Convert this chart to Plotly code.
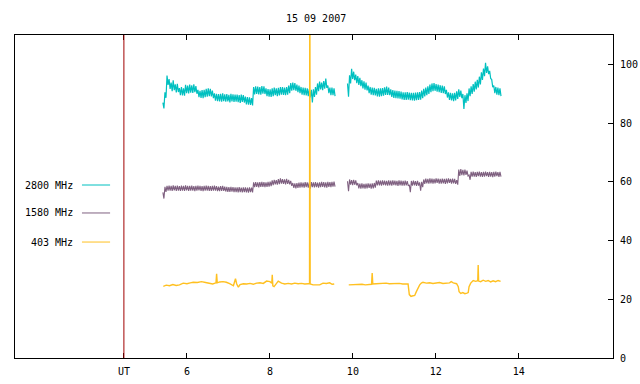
import numpy as np
import plotly.graph_objects as go

# ---------------- data ----------------
title_text = "15 09 2007"
series_names = ["2800 MHz", "1580 MHz", "403 MHz"]
series_colors = ["#00C0C0", "#7F6080", "#FFC020"]
ut_marker = 4.48          # hour where the "UT" marker line sits
x_tick_vals = [4.48, 6, 8, 10, 12, 14]
x_tick_text = ["UT", "6", "8", "10", "12", "14"]
y_tick_vals = [0, 20, 40, 60, 80, 100]

# segment time spans (hours UT); samples are evenly spaced inside each span
seg1_span = (5.42, 9.57)
seg2_span = (9.87, 13.57)

# 2800 MHz flux, successive samples (noisy band: high/low alternate)
f2800_seg1 = [87.0, 85.0, 90.5, 88.6, 96.2, 93.0, 95.0, 91.6, 93.8, 90.9, 94.6, 91.2, 93.2, 90.4, 93.4, 90.6,
              91.9, 89.5, 92.3, 89.4, 91.8, 89.3, 93.0, 90.2, 92.8, 90.1, 93.1, 90.4, 92.9, 90.3, 93.2, 90.5,
              92.6, 90.0, 91.3, 88.8, 91.0, 88.6, 91.2, 88.5, 91.3, 88.8, 91.7, 89.0, 91.8, 89.2, 91.7, 89.1,
              91.1, 88.5, 90.1, 87.6, 90.0, 87.5, 89.9, 87.4, 90.0, 87.3, 90.1, 87.5, 89.8, 87.3, 89.9, 87.4,
              89.6, 87.0, 90.0, 87.4, 89.8, 87.2, 89.7, 87.3, 89.7, 87.1, 89.5, 86.9, 89.7, 87.2, 89.5, 87.0,
              89.0, 86.4, 88.9, 86.3, 88.8, 86.2, 88.5, 86.0, 92.3, 89.8, 92.5, 89.9, 92.4, 89.8, 92.3, 89.7,
              92.6, 90.0, 92.5, 89.9, 91.8, 89.2, 91.6, 89.0, 91.5, 88.9, 91.8, 89.2, 92.1, 89.5, 91.8, 89.2,
              92.0, 89.4, 92.3, 89.7, 92.3, 89.6, 92.1, 89.5, 92.3, 89.7, 92.8, 90.2, 93.6, 91.0, 93.8, 91.2,
              93.6, 91.0, 93.1, 90.5, 92.8, 90.2, 92.3, 89.7, 92.1, 89.5, 92.0, 89.4, 91.8, 89.2, 91.6, 88.7,
              91.3, 87.0, 91.5, 88.9, 92.3, 89.7, 93.5, 90.9, 94.1, 91.5, 93.8, 91.2, 94.3, 91.7, 95.2, 92.0,
              92.8, 90.2, 92.1, 89.5, 92.1, 89.5, 91.8, 89.2]
f2800_seg2 = [93.5, 89.0, 96.3, 93.5, 98.5, 95.0, 97.5, 94.6, 96.5, 93.6, 96.0, 93.0, 95.4, 92.6, 94.6, 91.8,
              94.2, 91.4, 93.8, 91.1, 92.8, 90.2, 92.3, 89.7, 92.1, 89.5, 92.0, 89.4, 91.7, 89.1, 91.8, 89.0,
              91.8, 89.2, 91.9, 89.3, 92.2, 89.6, 92.4, 89.6, 92.1, 89.5, 91.5, 88.9, 91.2, 88.6, 91.1, 88.5,
              91.0, 88.4, 90.9, 88.3, 90.7, 88.1, 90.5, 87.9, 90.5, 87.9, 90.6, 88.0, 90.4, 87.8, 90.3, 87.7,
              90.3, 87.6, 90.4, 87.8, 90.5, 87.9, 90.6, 88.0, 91.1, 88.5, 91.7, 89.1, 92.1, 89.5, 92.5, 89.9,
              93.1, 90.5, 93.5, 90.9, 93.6, 91.0, 93.3, 90.7, 93.1, 90.5, 92.9, 90.3, 92.8, 90.2, 92.5, 89.9,
              91.3, 88.7, 90.5, 87.9, 90.3, 87.7, 90.1, 87.5, 90.3, 87.7, 90.8, 88.2, 91.5, 88.9, 91.1, 88.5,
              89.9, 84.8, 89.5, 86.9, 90.1, 87.5, 91.8, 89.2, 92.5, 89.9, 93.3, 90.7, 94.1, 91.5, 94.7, 92.1,
              95.8, 93.2, 97.3, 94.7, 98.6, 96.0, 100.5, 97.1, 99.3, 96.7, 97.8, 95.2, 94.8, 92.2, 92.8, 90.2,
              92.3, 89.7, 92.1, 89.5, 91.8, 89.2]

# 1580 MHz flux
f1580_seg1 = [56.4, 54.3, 58.3, 56.6, 58.6, 57.0, 58.7, 57.0, 58.6, 56.9, 58.8, 57.1, 58.6, 56.9, 58.7, 57.0,
              58.5, 56.9, 58.7, 57.0, 58.6, 56.9, 58.8, 57.1, 58.6, 56.9, 58.6, 57.0, 58.7, 57.0, 58.5, 56.8,
              58.6, 57.0, 58.7, 57.1, 58.6, 56.9, 58.5, 56.8, 58.6, 57.0, 58.7, 57.0, 58.6, 56.9, 58.5, 56.9,
              58.6, 57.0, 58.7, 57.0, 58.5, 56.8, 58.4, 56.8, 58.5, 56.9, 58.6, 56.9, 58.4, 56.7, 58.3, 56.6,
              58.2, 56.6, 58.3, 56.7, 58.2, 56.5, 58.1, 56.5, 58.1, 56.4, 58.2, 56.5, 58.0, 56.4, 58.1, 56.5,
              58.1, 56.4, 58.0, 56.3, 58.1, 56.5, 58.0, 56.4, 59.8, 58.2, 59.9, 58.3, 59.8, 58.1, 59.9, 58.3,
              60.0, 58.3, 59.9, 58.2, 59.8, 58.3, 60.0, 58.4, 60.1, 58.5, 60.5, 58.9, 60.7, 59.1, 60.6, 59.0,
              60.9, 59.2, 61.2, 59.4, 60.9, 59.3, 60.8, 59.1, 61.0, 59.3, 60.7, 59.1, 60.3, 58.6, 59.6, 57.9,
              59.5, 57.8, 59.6, 57.9, 59.7, 58.0, 59.8, 58.1, 59.7, 58.0, 59.9, 58.2, 59.8, 58.0, 59.7, 57.7,
              59.9, 58.2, 59.8, 58.1, 59.9, 58.2, 59.7, 58.0, 59.8, 58.2, 60.0, 58.3, 59.9, 58.1, 59.8, 58.0,
              60.0, 58.3, 59.9, 58.2, 60.0, 58.4, 60.1, 58.4]
f1580_seg2 = [60.2, 56.8, 60.8, 59.0, 60.6, 58.9, 60.7, 59.0, 60.5, 58.8, 59.6, 57.8, 59.4, 57.7, 59.5, 57.8,
              59.3, 57.7, 59.4, 57.8, 59.5, 57.9, 59.4, 57.7, 59.5, 57.8, 59.6, 58.0, 60.4, 58.8, 60.5, 58.8,
              60.4, 58.7, 60.5, 58.9, 60.4, 58.8, 60.3, 58.7, 60.5, 58.8, 60.4, 58.7, 60.5, 58.9, 60.4, 58.8,
              60.3, 58.6, 60.5, 58.8, 60.4, 58.7, 60.3, 58.7, 60.4, 58.8, 60.2, 58.6, 59.0, 56.5, 60.3, 58.7,
              60.4, 58.8, 60.2, 58.6, 60.3, 58.7, 59.8, 57.0, 60.0, 58.2, 60.8, 59.3, 61.1, 59.5, 61.0, 59.4,
              61.2, 59.5, 61.1, 59.4, 61.0, 59.5, 61.2, 59.6, 61.1, 59.4, 61.0, 59.4, 61.1, 59.5, 61.0, 59.3,
              61.1, 59.5, 61.2, 59.6, 61.0, 59.4, 61.1, 59.5, 61.0, 59.3, 60.6, 59.0, 64.2, 62.0, 64.3, 62.3,
              64.1, 62.2, 64.2, 62.4, 63.8, 62.0, 62.3, 60.7, 63.4, 61.8, 63.5, 61.8, 63.3, 61.7, 63.4, 61.9,
              63.5, 61.8, 63.3, 61.7, 63.4, 61.8, 63.5, 61.9, 63.3, 61.7, 63.4, 61.8, 63.3, 61.6, 63.4, 61.8,
              63.5, 61.9, 63.3, 61.7, 63.4, 61.8]

# 403 MHz flux with its own sample times
t403_seg1 = [5.43, 5.5, 5.58, 5.66, 5.74, 5.82, 5.91, 6.0, 6.08, 6.15, 6.25, 6.35, 6.45, 6.55, 6.62,
             6.70, 6.715, 6.73, 6.79, 6.87, 6.95, 7.03, 7.12, 7.17, 7.20, 7.24, 7.28, 7.36, 7.44, 7.52,
             7.60, 7.68, 7.76, 7.84, 7.92, 8.0, 8.045, 8.056, 8.07, 8.10, 8.14, 8.2, 8.28, 8.36, 8.44,
             8.52, 8.60, 8.68, 8.76, 8.84, 8.92, 8.955, 8.962, 8.97, 9.04, 9.12, 9.2, 9.28, 9.36, 9.44,
             9.5, 9.55]
f403_seg1 = [24.4, 24.8, 24.6, 25.0, 24.7, 24.9, 25.5, 25.3, 25.6, 25.8, 25.7, 26.0, 25.7, 25.3, 25.2,
             25.6, 28.7, 25.6, 25.9, 26.0, 25.8, 25.3, 24.6, 27.0, 25.2, 24.1, 25.0, 25.3, 25.2, 25.4,
             25.1, 25.5, 25.6, 25.4, 26.2, 26.0, 25.5, 28.3, 24.6, 24.3, 25.0, 26.2, 25.5, 25.2, 25.4,
             25.2, 25.5, 25.3, 25.4, 25.2, 25.3, 25.3, 150.0, 25.2, 24.9, 25.0, 24.9, 25.5, 25.4, 25.6,
             25.1, 25.2]
t403_seg2 = [9.90, 9.98, 10.06, 10.14, 10.22, 10.30, 10.38, 10.45, 10.465, 10.48, 10.56, 10.64, 10.72,
             10.80, 10.88, 10.96, 11.04, 11.12, 11.20, 11.28, 11.33, 11.36, 11.40, 11.45, 11.49, 11.53,
             11.57, 11.61, 11.65, 11.69, 11.77, 11.85, 11.93, 12.01, 12.09, 12.17, 12.25, 12.33, 12.37,
             12.42, 12.5, 12.54, 12.56, 12.60, 12.65, 12.70, 12.75, 12.78, 12.80, 12.84, 12.90, 12.96,
             13.01, 13.02, 13.03, 13.08, 13.14, 13.20, 13.26, 13.32, 13.38, 13.44, 13.50, 13.56]
f403_seg2 = [24.9, 25.0, 24.9, 25.0, 25.1, 24.9, 25.0, 25.1, 28.9, 25.2, 25.3, 25.4, 25.3, 25.5, 25.3,
             25.4, 25.3, 25.4, 25.2, 25.3, 25.2, 21.6, 21.0, 21.2, 21.3, 22.6, 23.8, 24.9, 25.5, 25.8,
             25.5, 25.6, 25.4, 25.5, 25.7, 25.4, 25.5, 25.6, 26.0, 25.6, 25.3, 24.3, 22.6, 22.0, 22.3,
             21.9, 22.1, 22.3, 24.3, 25.5, 26.4, 26.1, 26.3, 31.7, 26.2, 26.0, 26.5, 26.1, 26.4, 25.9,
             26.3, 26.0, 26.4, 26.1]

# ---------------- build ----------------
def join(t1, v1, t2, v2):
    return list(t1) + [None] + list(t2), list(v1) + [None] + list(v2)

def grid(span, vals):
    return np.linspace(span[0], span[1], len(vals)).tolist()

x2800, y2800 = join(grid(seg1_span, f2800_seg1), f2800_seg1, grid(seg2_span, f2800_seg2), f2800_seg2)
x1580, y1580 = join(grid(seg1_span, f1580_seg1), f1580_seg1, grid(seg2_span, f1580_seg2), f1580_seg2)
x403, y403 = join(t403_seg1, f403_seg1, t403_seg2, f403_seg2)

FONT = "DejaVu Sans Mono"
fig = go.Figure()
for (xs, ys), name, col, w in zip([(x2800, y2800), (x1580, y1580), (x403, y403)],
                                 series_names, series_colors, [1.2, 1.1, 1.4]):
    fig.add_trace(go.Scatter(x=xs, y=ys, mode="lines", name=name,
                             line=dict(color=col, width=w), showlegend=False,
                             connectgaps=False, hoverinfo="skip"))

# UT marker line
fig.add_shape(type="line", xref="x", yref="paper", x0=ut_marker, x1=ut_marker, y0=0, y1=1,
              line=dict(color="#A00000", width=1), layer="above")

# gnuplot-style key (text then line sample)
key_y = [0.5356, 0.449, 0.359]
for name, col, ky in zip(series_names, series_colors, key_y):
    fig.add_annotation(xref="paper", yref="paper", x=0.1003, y=ky, text=name, showarrow=False,
                       xanchor="right", yanchor="middle", font=dict(family=FONT, size=10, color="black"))
    fig.add_shape(type="line", xref="paper", yref="paper", x0=0.112, x1=0.159, y0=ky, y1=ky,
                  line=dict(color=col, width=1))

fig.add_annotation(xref="paper", yref="paper", x=0.503, y=1 + 17 / 323, text=title_text, showarrow=False,
                   xanchor="center", yanchor="middle", font=dict(family=FONT, size=10, color="black"))

fig.update_layout(
    width=640, height=384,
    margin=dict(l=15, r=27, t=35, b=26),
    paper_bgcolor="white", plot_bgcolor="white",
    font=dict(family=FONT, size=10, color="black"),
    xaxis=dict(range=[1.855, 16.27], tickvals=x_tick_vals, ticktext=x_tick_text,
               ticks="inside", ticklen=5, tickcolor="black", showline=True, linecolor="black",
               linewidth=1, mirror="ticks", showgrid=False, zeroline=False, automargin=False,
               ticklabelstandoff=4, tickfont=dict(family=FONT, size=10)),
    yaxis=dict(range=[0, 110], tickvals=y_tick_vals, side="right",
               ticks="inside", ticklen=5, tickcolor="black", showline=True, linecolor="black",
               linewidth=1, mirror=True, showgrid=False, zeroline=False, automargin=False,
               ticklabelstandoff=4, tickfont=dict(family=FONT, size=10)),
)

fig.write_html("out.html", config={"displayModeBar": False},
               post_script="document.body.style.margin='0px';document.body.style.overflow='hidden';")
